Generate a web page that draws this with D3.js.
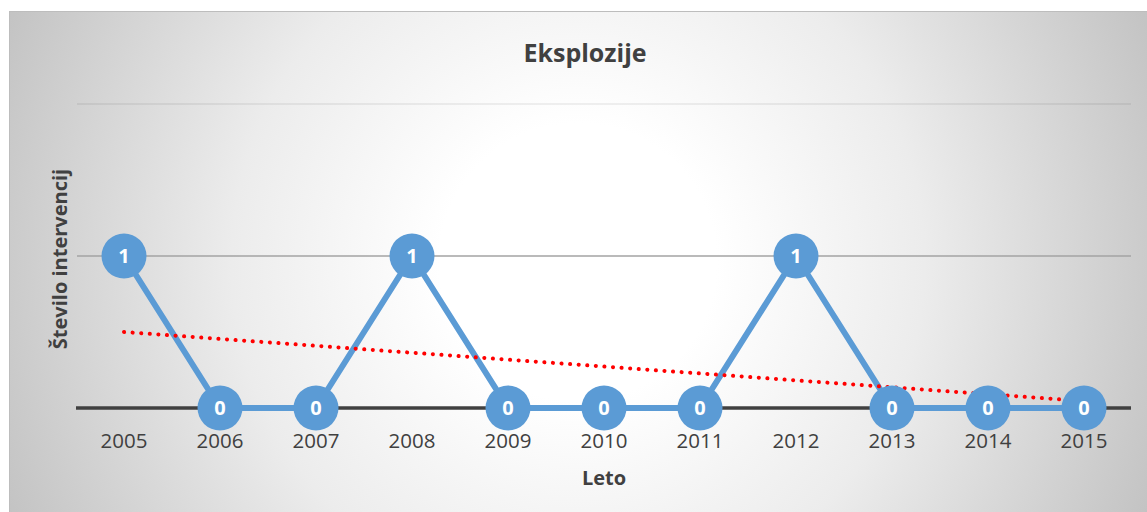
<!DOCTYPE html>
<html>
<head>
<meta charset="utf-8">
<script src="https://cdn.jsdelivr.net/npm/d3@7"></script>
<style>
  body { margin: 0; background: #fff; }
  text { font-family: "Open Sans", sans-serif; }
</style>
</head>
<body>
<div id="chart"></div>
<script>
// data
var years = ["2005","2006","2007","2008","2009","2010","2011","2012","2013","2014","2015"];
var counts = [1, 0, 0, 1, 0, 0, 0, 1, 0, 0, 0];
var yTicks = [0, 1, 2];
var chartTitle = "Eksplozije";
var xTitle = "Leto";
var yTitle = "Število intervencij";

var width = 1147, height = 512;
var plotLeft = 76, plotRight = 1132, plotTop = 104, plotBottom = 408;

var svg = d3.select("#chart").append("svg")
  .attr("width", width)
  .attr("height", height)
  .style("display", "block");

var defs = svg.append("defs");
var grad = defs.append("radialGradient")
  .attr("id", "bg")
  .attr("gradientUnits", "userSpaceOnUse")
  .attr("cx", 578).attr("cy", 262).attr("r", 630);
grad.append("stop").attr("offset", "0").attr("stop-color", "#ffffff");
grad.append("stop").attr("offset", "0.22").attr("stop-color", "#ffffff");
grad.append("stop").attr("offset", "0.55").attr("stop-color", "#ececec");
grad.append("stop").attr("offset", "1").attr("stop-color", "#c2c2c2");

// chart area
svg.append("rect")
  .attr("x", 9.5).attr("y", 11.5)
  .attr("width", width).attr("height", height)
  .attr("fill", "url(#bg)")
  .attr("stroke", "#bdbdbd")
  .attr("stroke-width", 1);

var x = d3.scaleBand().domain(years).range([plotLeft, plotRight]);
var y = d3.scaleLinear().domain([0, 2]).range([plotBottom, plotTop]);
var cx = function(d) { return x(d) + x.bandwidth() / 2; };

// gridlines
svg.selectAll(".grid")
  .data(yTicks.filter(function(t) { return t > 0; }))
  .enter().append("line")
  .attr("x1", plotLeft + 1).attr("x2", plotRight - 1)
  .attr("y1", function(d) { return y(d); })
  .attr("y2", function(d) { return y(d); })
  .attr("stroke", function(d) { return d == 2 ? "#000" : "#a3a3a3"; })
  .attr("stroke-opacity", function(d) { return d == 2 ? 0.08 : 1; })
  .attr("stroke-width", 1.5);

// x axis line
svg.append("line")
  .attr("x1", plotLeft).attr("x2", plotRight - 1)
  .attr("y1", y(0)).attr("y2", y(0))
  .attr("stroke", "#404040")
  .attr("stroke-width", 3.5);

// x tick labels
var xAxis = d3.axisBottom(x).tickSize(0).tickPadding(0);
var gx = svg.append("g")
  .attr("transform", "translate(0," + (y(0) + 40) + ")")
  .call(xAxis);
gx.select(".domain").remove();
gx.selectAll("text")
  .attr("dy", 0)
  .style("font-family", "'Open Sans', sans-serif")
  .style("font-size", "20.5px")
  .attr("fill", "#404040");

// trendline (linear regression of the series)
var n = counts.length;
var mx = d3.mean(counts, function(d, i) { return i; });
var my = d3.mean(counts);
var sxy = d3.sum(counts, function(d, i) { return (i - mx) * (d - my); });
var sxx = d3.sum(counts, function(d, i) { return (i - mx) * (i - mx); });
var slope = sxy / sxx, icpt = my - slope * mx;

var line = d3.line()
  .x(function(d) { return cx(d.year); })
  .y(function(d) { return y(d.v); });

var rows = years.map(function(yr, i) { return { year: yr, v: counts[i] }; });

svg.append("path")
  .datum(rows)
  .attr("d", line)
  .attr("fill", "none")
  .attr("stroke", "#5b9bd5")
  .attr("stroke-width", 6)
  .attr("stroke-linejoin", "round");

svg.append("line")
  .attr("x1", cx(years[0])).attr("y1", y(icpt))
  .attr("x2", cx(years[n - 1])).attr("y2", y(icpt + slope * (n - 1)))
  .attr("stroke", "#ff0000")
  .attr("stroke-width", 4)
  .attr("stroke-linecap", "round")
  .attr("stroke-dasharray", "0.1 8.5");

// markers
var pts = svg.selectAll(".pt")
  .data(rows)
  .enter().append("g")
  .attr("transform", function(d) { return "translate(" + cx(d.year) + "," + y(d.v) + ")"; });

pts.append("circle")
  .attr("r", 22.5)
  .attr("fill", "#5b9bd5");

pts.append("text")
  .attr("text-anchor", "middle")
  .attr("dy", "0.36em")
  .style("font-size", "20px")
  .style("font-weight", "bold")
  .attr("fill", "#fff")
  .text(function(d) { return d.v; });

// titles
svg.append("text")
  .attr("x", 585).attr("y", 62)
  .attr("text-anchor", "middle")
  .style("font-size", "25px")
  .style("font-weight", "bold")
  .attr("fill", "#404040")
  .text(chartTitle);

svg.append("text")
  .attr("x", 604).attr("y", 485)
  .attr("text-anchor", "middle")
  .style("font-size", "20px")
  .style("font-weight", "bold")
  .attr("fill", "#404040")
  .text(xTitle);

svg.append("text")
  .attr("transform", "translate(67,259) rotate(-90)")
  .attr("text-anchor", "middle")
  .style("font-size", "20px")
  .style("font-weight", "bold")
  .attr("fill", "#404040")
  .text(yTitle);
</script>
</body>
</html>
